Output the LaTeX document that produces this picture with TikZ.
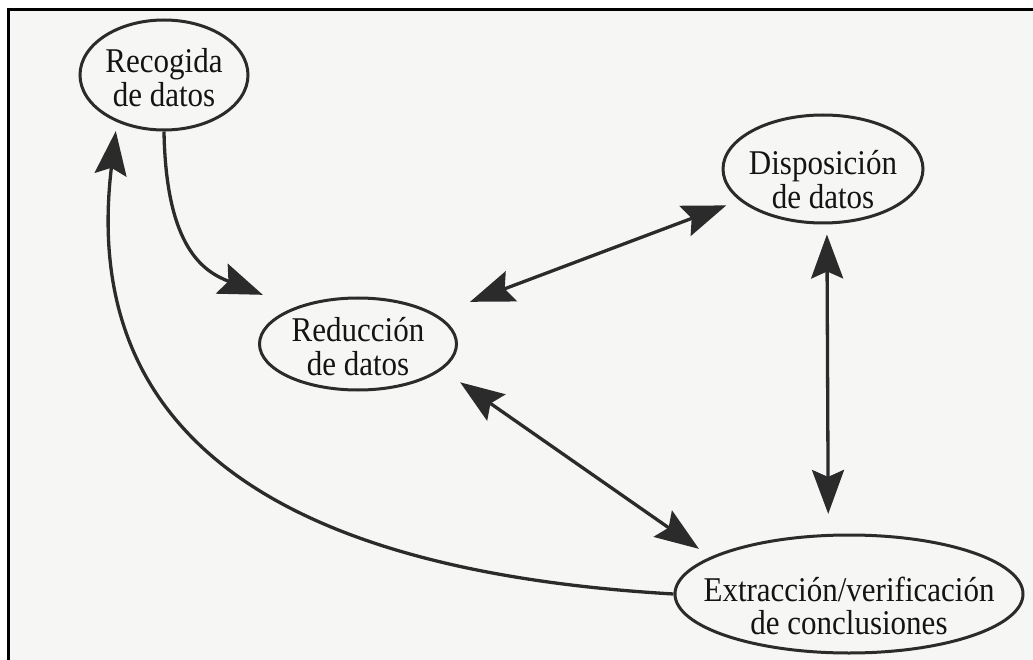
\documentclass[tikz,border=0pt]{standalone}
\usepackage{fontspec}
\usepackage{graphicx}
\setmainfont{Liberation Serif}
\usetikzlibrary {arrows.meta, positioning}
\usetikzlibrary {shapes.geometric}
\definecolor{ink}{HTML}{2B2B2B}
\definecolor{paper}{HTML}{F6F6F4}
\tikzset{
  >={Stealth[length=44pt, width=32pt, inset=7pt]}
}
% text of a stage, kept out of the ellipse size; #1 = drop
\newcommand\etiq[3]{\makebox[0pt]{\smash{\raisebox{#1}{\scalebox{1}[1.12]{\begin{tabular}{@{}c@{}}#2\\#3\end{tabular}}}}}}

\begin{document}
\begin{tikzpicture}[x=1pt, y=-1pt, font=\fontsize{31}{27}\selectfont,
    etapa/.style={ellipse, draw=ink, line width=3pt, inner sep=0pt, text=black!92},
    flecha/.style={color=ink, line width=3.3pt}]
    \useasboundingbox (0, 0) rectangle (1033, 660);
    % frame
    \fill[paper] (9, 10) rectangle (1033, 660);
    \draw[line width=3pt] (1033, 10) -- (8.5, 10) -- (8.5, 660);
    % stages
    \node[etapa, minimum width=168pt, minimum height=110pt] (rec) at (164, 75) {\etiq{-14pt}{Recogida}{de datos}};
    \node[etapa, minimum width=200pt, minimum height=108pt] (dis) at (823, 169) {\etiq{-22pt}{Disposición}{de datos}};
    \node[etapa, minimum width=197pt, minimum height=92pt] (red) at (358, 344) {\etiq{-14pt}{Reducción}{de datos}};
    \node[etapa, minimum width=348pt, minimum height=118pt] (ext) at (849, 594) {\etiq{-23pt}{Extracción/verificación}{de conclusiones}};
    % arrows
    % 1.
    \draw[flecha, ->, shorten >=34pt] (rec.south) .. controls (166, 250) and (205, 272) .. (red.150);
    % 2.
    \draw[flecha, <->, shorten <=36pt, shorten >=14pt] (red) -- (dis);
    % 3.
    \draw[flecha, <->, shorten <=22pt, shorten >=14pt] (red.-17) -- (ext.165);
    % 4.
    \draw[flecha, <->, shorten <=10pt, shorten >=20pt] (dis.-86) -- (ext.109);
    % 5. back to the start
    \draw[flecha, ->, shorten >=9pt] (ext.west) .. controls (295, 572) and (78, 445) .. (rec.225);
\end{tikzpicture}
\end{document}
